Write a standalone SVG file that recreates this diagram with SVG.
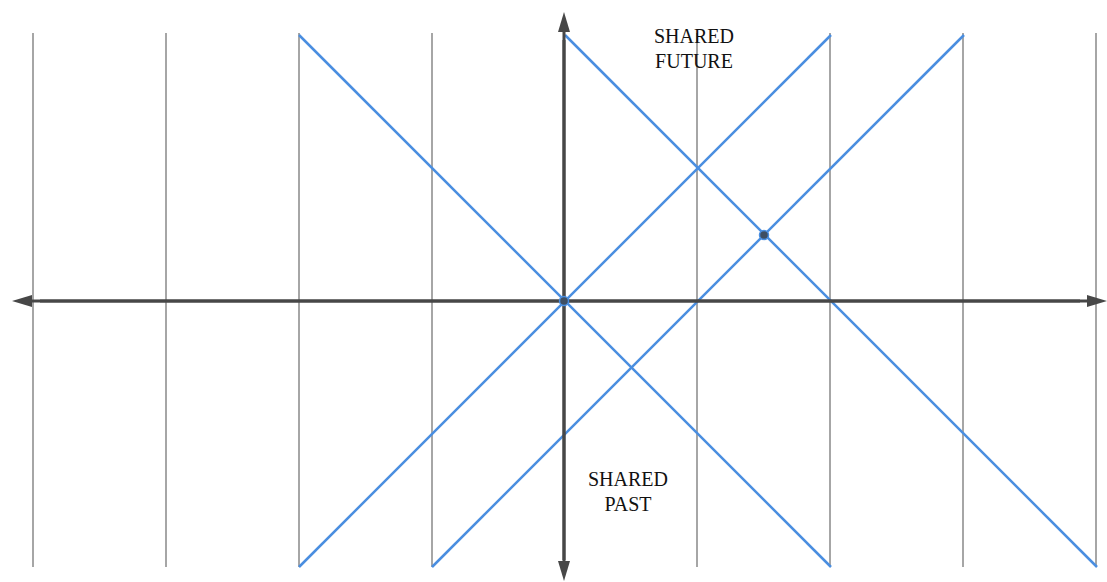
<svg xmlns="http://www.w3.org/2000/svg" width="1107" height="582" viewBox="0 0 1107 582">
<style>
.grid{stroke:#a6a6a6;stroke-width:2}
.blue{stroke:#4a8ee0;stroke-width:2.5;fill:none}
.axis{stroke:#474747;stroke-width:3}
.dot{fill:#3f4f63;stroke:#4a8ee0;stroke-width:1.5}
.lbl{font-family:"Liberation Serif","DejaVu Serif",serif;font-size:20px;fill:#111;text-anchor:middle}
</style>
<defs>
<marker id="ah" viewBox="0 0 20 12" refX="0" refY="6" markerWidth="20" markerHeight="12" markerUnits="userSpaceOnUse" orient="auto">
<path d="M0,0 L20,6 L0,12 Z" fill="#474747"/>
</marker>
</defs>
<g id="grid">
<line class="grid" x1="33" y1="33" x2="33" y2="567"/>
<line class="grid" x1="166" y1="33" x2="166" y2="567"/>
<line class="grid" x1="299" y1="33" x2="299" y2="567"/>
<line class="grid" x1="432" y1="33" x2="432" y2="567"/>
<line class="grid" x1="697" y1="33" x2="697" y2="567"/>
<line class="grid" x1="830" y1="33" x2="830" y2="567"/>
<line class="grid" x1="963" y1="33" x2="963" y2="567"/>
<line class="grid" x1="1096" y1="33" x2="1096" y2="567"/>
</g>
<g id="connectors">
<line class="blue" x1="299" y1="35" x2="831" y2="567"/>
<line class="blue" x1="565" y1="35" x2="1097" y2="567"/>
<line class="blue" x1="299" y1="567" x2="831" y2="35"/>
<line class="blue" x1="432" y1="567" x2="964" y2="35"/>
</g>
<g id="axes">
<line class="axis" x1="564" y1="560" x2="564" y2="32" marker-end="url(#ah)"/>
<line class="axis" x1="564" y1="40" x2="564" y2="561" marker-end="url(#ah)"/>
<line class="axis" x1="40" y1="301" x2="1087" y2="301" marker-end="url(#ah)"/>
<line class="axis" x1="1080" y1="301" x2="32" y2="301" marker-end="url(#ah)"/>
</g>
<g id="origin"><circle class="dot" cx="564" cy="301" r="4.5"/></g>
<g id="event"><circle class="dot" cx="764" cy="235" r="4.5"/></g>
<g id="shared-future">
<text class="lbl" x="694" y="43">SHARED</text>
<text class="lbl" x="694" y="68">FUTURE</text>
</g>
<g id="shared-past">
<text class="lbl" x="628" y="486">SHARED</text>
<text class="lbl" x="628" y="511">PAST</text>
</g>
</svg>
